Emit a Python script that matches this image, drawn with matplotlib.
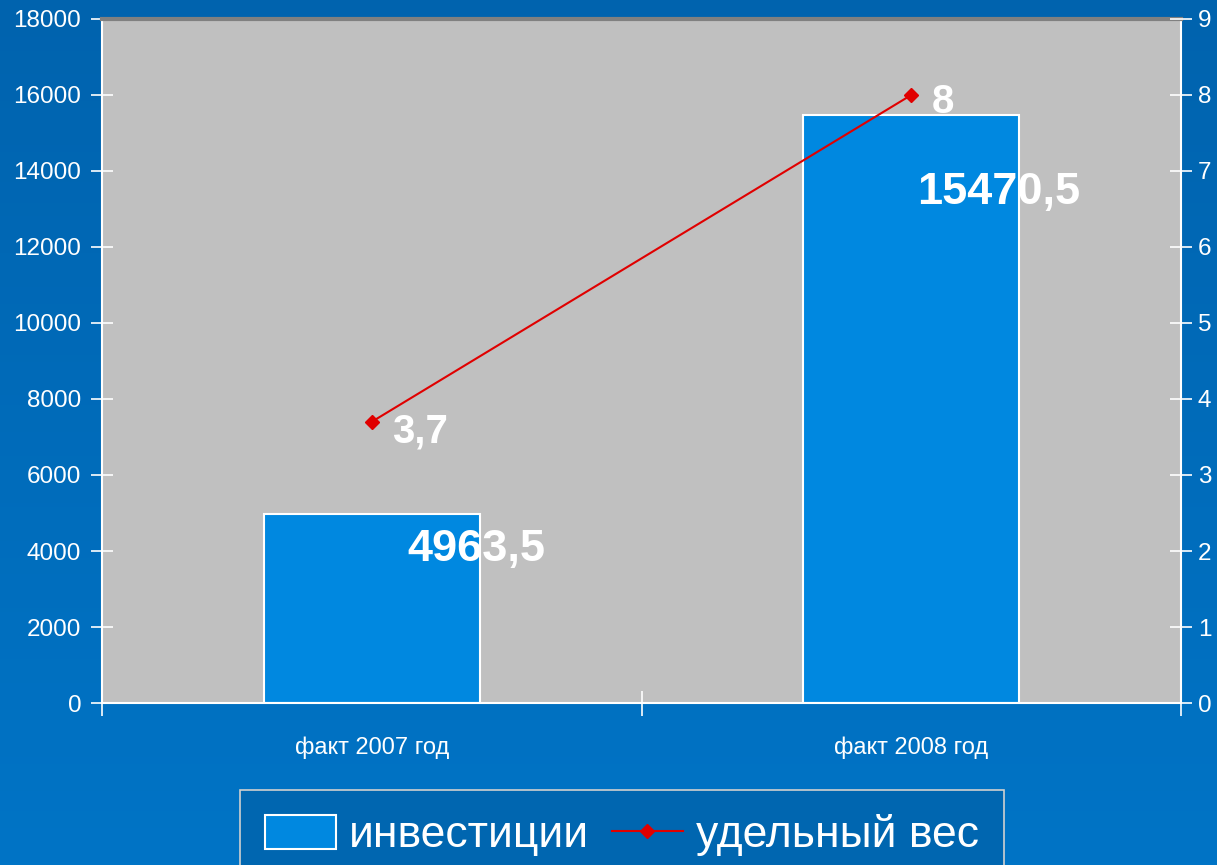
import numpy as np
import matplotlib
matplotlib.use("Agg")
import matplotlib.pyplot as plt
from matplotlib.patches import Arc
from matplotlib.lines import Line2D
from matplotlib.patches import Patch
from matplotlib.colors import LinearSegmentedColormap

plt.rcParams['font.family'] = ['Liberation Sans', 'DejaVu Sans']

categories = ["факт 2007 год", "факт 2008 год"]
investments = [4963.5, 15470.5]
share = [3.7, 8.0]
inv_labels = ["4963,5", "15470,5"]
share_labels = ["3,7", "8"]
left_ticks = [0, 2000, 4000, 6000, 8000, 10000, 12000, 14000, 16000, 18000]
right_ticks = [0, 1, 2, 3, 4, 5, 6, 7, 8, 9]
legend_labels = ["инвестиции", "удельный вес"]

W, H = 1217, 865
fig = plt.figure(figsize=(W / 100, H / 100), dpi=100)

# background gradient
bg = fig.add_axes([0, 0, 1, 1], zorder=-10)
grad = np.linspace(0, 1, 256).reshape(-1, 1)
cmap = LinearSegmentedColormap.from_list("bg", ["#0063AE", "#0074C6"])
bg.imshow(grad, aspect='auto', cmap=cmap, extent=[0, W, H, 0])
bg.set_xlim(0, W)
bg.set_ylim(H, 0)
bg.axis('off')
# decorative swirls bottom-right
for r, lw, a in [(150, 6, 0.35), (200, 7, 0.3), (250, 8, 0.28), (300, 6, 0.25), (350, 5, 0.22)]:
    bg.add_patch(Arc((1260, 930), 2 * r, 2 * r * 0.8, theta1=95, theta2=175,
                     color="#5AAEF5", lw=lw, alpha=a))

ax = fig.add_axes([102 / W, 1 - 703 / H, (1181 - 102) / W, (703 - 19) / H])
ax.set_facecolor("#C0C0C0")
x = np.arange(len(categories))
bars = ax.bar(x, investments, width=0.4, color="#0088E0", edgecolor="white",
              linewidth=1.5, zorder=2)
ax.set_xlim(-0.5, 1.5)
ax.set_ylim(0, 18000)
ax.set_yticks(left_ticks)
ax.set_yticklabels([str(t) for t in left_ticks])
ax.set_xticks([-0.5, 0.5, 1.5])
ax.set_xticklabels([])
ax.set_xticks(x, minor=True)
ax.set_xticklabels(categories, minor=True)
ax.tick_params(axis='x', which='major', direction='inout', length=18, color='white', width=1.2)
ax.tick_params(axis='x', which='minor', length=0, pad=24, labelsize=17, labelcolor='white')
ax.tick_params(axis='y', direction='inout', length=16, color='white', width=1.2,
               labelsize=17.5, labelcolor='white', pad=7)
for s in ['left', 'bottom', 'right']:
    ax.spines[s].set_color('white')
    ax.spines[s].set_linewidth(1.5)
ax.spines['top'].set_color('#808080')
ax.spines['top'].set_linewidth(3)

ax2 = ax.twinx()
ax2.set_ylim(0, 9)
ax2.set_yticks(right_ticks)
ax2.tick_params(axis='y', direction='inout', length=16, color='white', width=1.2,
                labelsize=17.5, labelcolor='white', pad=4)
for s in ['left', 'bottom', 'right', 'top']:
    ax2.spines[s].set_visible(False)
ax2.plot(x, share, color="#E00000", lw=1.5, marker='D', markersize=7, zorder=3)

inv_offsets = [(75, -25), (63, -56)]
for xi, v, lab, off in zip(x, investments, inv_labels, inv_offsets):
    ax.annotate(lab, (xi, v), xytext=off, textcoords='offset points', ha='center',
                va='center', color='white', fontsize=32.5, fontweight='bold', zorder=5)
share_offsets = [(35, -7), (23, -5)]
for xi, v, lab, off in zip(x, share, share_labels, share_offsets):
    ax2.annotate(lab, (xi, v), xytext=off, textcoords='offset points', ha='center',
                 va='center', color='white', fontsize=29, fontweight='bold', zorder=5)

handles = [Patch(facecolor="#0088E0", edgecolor="white", linewidth=1.5),
           Line2D([0], [0], color="#E00000", lw=1.5, marker='D', markersize=7)]
leg = fig.legend(handles, legend_labels, loc='upper center', ncol=2,
                 bbox_to_anchor=(622 / W, 1 - 790 / H), bbox_transform=fig.transFigure,
                 borderaxespad=0, fontsize=32, frameon=True, fancybox=False,
                 handlelength=1.6, handleheight=0.8, handletextpad=0.3,
                 columnspacing=0.5, borderpad=0.55, labelcolor='white')
leg.get_frame().set_facecolor("#0066B0")
leg.get_frame().set_edgecolor("#D0D0D0")
leg.get_frame().set_linewidth(1.2)
leg.get_frame().set_alpha(1)

fig.savefig("out.png", dpi=100)
